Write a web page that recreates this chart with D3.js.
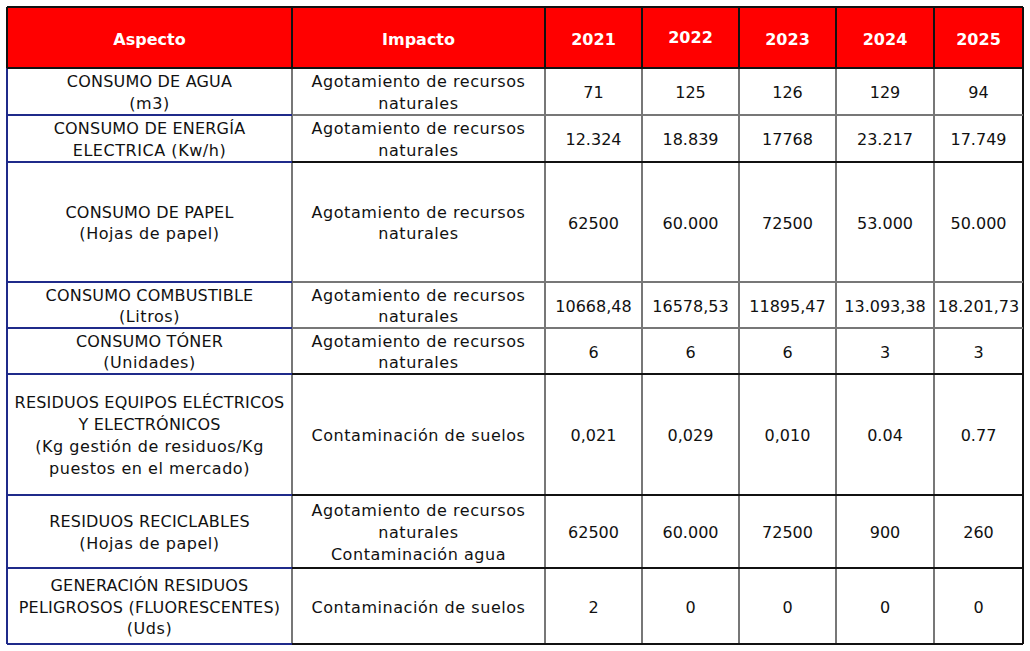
<!DOCTYPE html>
<html><head><meta charset="utf-8">
<script src="https://cdn.jsdelivr.net/npm/d3@7"></script>
<style>html,body{margin:0;padding:0;background:#fff;} svg{display:block;}</style>
</head><body>
<script>
const headers = ["Aspecto","Impacto","2021","2022","2023","2024","2025"];
const aspects = [
  ["CONSUMO DE AGUA","(m3)"],
  ["CONSUMO DE ENERGÍA","ELECTRICA (Kw/h)"],
  ["CONSUMO DE PAPEL","(Hojas de papel)"],
  ["CONSUMO COMBUSTIBLE","(Litros)"],
  ["CONSUMO TÓNER","(Unidades)"],
  ["RESIDUOS EQUIPOS ELÉCTRICOS","Y ELECTRÓNICOS","(Kg gestión de residuos/Kg","puestos en el mercado)"],
  ["RESIDUOS RECICLABLES","(Hojas de papel)"],
  ["GENERACIÓN RESIDUOS","PELIGROSOS (FLUORESCENTES)","(Uds)"]
];
const impacts = [
  ["Agotamiento de recursos","naturales"],
  ["Agotamiento de recursos","naturales"],
  ["Agotamiento de recursos","naturales"],
  ["Agotamiento de recursos","naturales"],
  ["Agotamiento de recursos","naturales"],
  ["Contaminación de suelos"],
  ["Agotamiento de recursos","naturales","Contaminación agua"],
  ["Contaminación de suelos"]
];
const v2021 = ["71","12.324","62500","10668,48","6","0,021","62500","2"];
const v2022 = ["125","18.839","60.000","16578,53","6","0,029","60.000","0"];
const v2023 = ["126","17768","72500","11895,47","6","0,010","72500","0"];
const v2024 = ["129","23.217","53.000","13.093,38","3","0.04","900","0"];
const v2025 = ["94","17.749","50.000","18.201,73","3","0.77","260","0"];

// layout
const W = 1030, H = 651;
const colEdges = [7, 292, 545, 642, 739, 836, 934, 1023];
const rowEdges = [7, 68, 115, 162, 282, 328, 374, 495, 568, 644];
const lineH = 21.8;
const FONT = "'DejaVu Sans', sans-serif";

const svg = d3.select("body").append("svg").attr("width", W).attr("height", H);

const x = i => colEdges[i];
const y = i => rowEdges[i];

const rows = aspects.map((a, i) => ({
  cells: [a, impacts[i], [v2021[i]], [v2022[i]], [v2023[i]], [v2024[i]], [v2025[i]]]
}));

// header background
svg.append("rect").attr("x", x(0)).attr("y", y(0))
  .attr("width", x(7) - x(0)).attr("height", y(1) - y(0)).attr("fill", "#FF0000");

// header text
svg.append("g").selectAll("text").data(headers).join("text")
  .attr("x", (d, i) => (x(i) + x(i + 1)) / 2)
  .attr("y", (d, i) => (y(0) + y(1)) / 2 + (i === 3 ? 0 : 2))
  .attr("text-anchor", "middle").attr("dominant-baseline", "central")
  .attr("fill", "#fff").attr("font-family", FONT).attr("font-weight", "bold")
  .attr("font-size", 16).text(d => d);

// body text
const hasLower = s => /[a-zá-ú]/.test(s);
const gBody = svg.append("g").attr("font-family", FONT).attr("font-size", 16).attr("fill", "#111");
rows.forEach((r, ri) => {
  const cy = (y(ri + 1) + y(ri + 2)) / 2;
  r.cells.forEach((lines, ci) => {
    const cx = (x(ci) + x(ci + 1)) / 2;
    const n = lines.length;
    gBody.append("g").selectAll("text").data(lines).join("text")
      .attr("x", cx)
      .attr("y", (d, k) => cy + 1 + (k - (n - 1) / 2) * lineH)
      .attr("text-anchor", "middle").attr("dominant-baseline", "central")
      .attr("letter-spacing", d => ci >= 2 ? 0 : (hasLower(d) ? 0.55 : 0.2))
      .text(d => d);
  });
});

// grid lines
const gl = svg.append("g").attr("shape-rendering", "crispEdges");
for (let i = 0; i <= 7; i++) {
  gl.append("line").attr("x1", x(i)).attr("x2", x(i)).attr("y1", y(0)).attr("y2", y(1))
    .attr("stroke", "#111").attr("stroke-width", 1.2);
}
for (let i = 0; i <= 7; i++) {
  const col = i === 0 ? "#1f2a8a" : (i === 7 ? "#111" : "#777");
  gl.append("line").attr("x1", x(i)).attr("x2", x(i)).attr("y1", y(1)).attr("y2", y(9))
    .attr("stroke", col).attr("stroke-width", 1.2);
}
const grayRows = new Set([2, 4, 5]);
for (let j = 0; j <= 9; j++) {
  const c0 = (j <= 1) ? "#111" : "#1f2a8a";
  gl.append("line").attr("x1", x(0)).attr("x2", x(1)).attr("y1", y(j)).attr("y2", y(j))
    .attr("stroke", c0).attr("stroke-width", 1.2);
  const c1 = grayRows.has(j) ? "#777" : "#111";
  gl.append("line").attr("x1", x(1)).attr("x2", x(7)).attr("y1", y(j)).attr("y2", y(j))
    .attr("stroke", c1).attr("stroke-width", 1.2);
}
</script>
</body></html>
